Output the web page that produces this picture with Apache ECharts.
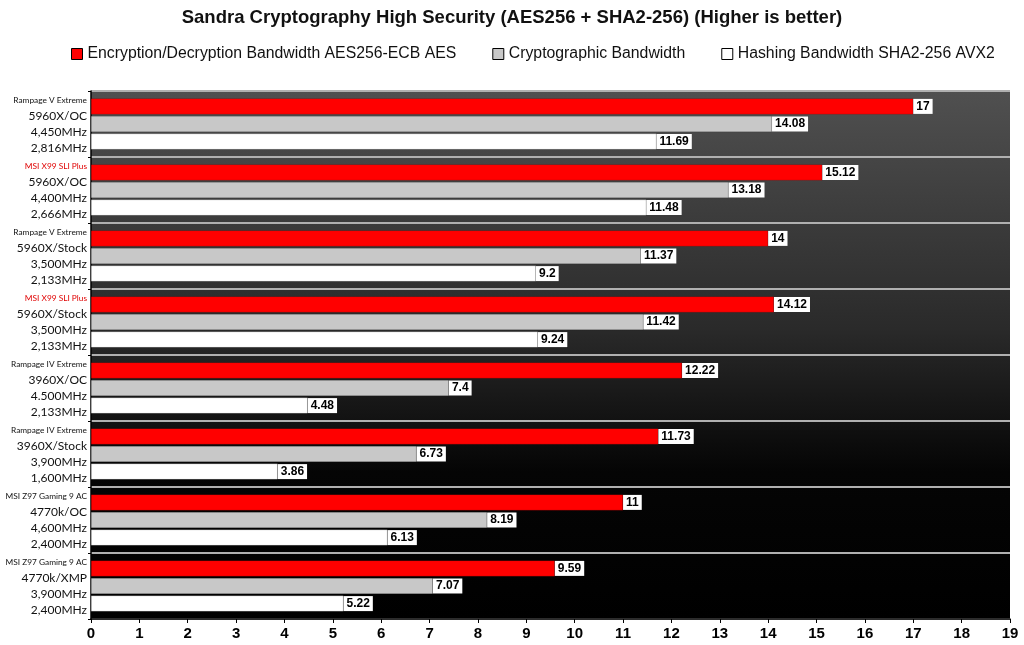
<!DOCTYPE html>
<html>
<head>
<meta charset="utf-8">
<script src="https://cdn.jsdelivr.net/npm/echarts@6/dist/echarts.min.js"></script>
<style>
  html, body { margin: 0; padding: 0; background: #fff; }
  #chart { width: 1024px; height: 645px; }
</style>
</head>
<body>
<div id="chart"></div>
<script>
// board / cpu / clock / memory for each group
const boards = ['Rampage V Extreme', 'MSI X99 SLI Plus', 'Rampage V Extreme', 'MSI X99 SLI Plus',
  'Rampage IV Extreme', 'Rampage IV Extreme', 'MSI Z97 Gaming 9 AC', 'MSI Z97 Gaming 9 AC'];
const cpus = ['5960X/OC', '5960X/OC', '5960X/Stock', '5960X/Stock', '3960X/OC', '3960X/Stock', '4770k/OC', '4770k/XMP'];
const clocks = ['4,450MHz', '4,400MHz', '3,500MHz', '3,500MHz', '4.500MHz', '3,900MHz', '4,600MHz', '3,900MHz'];
const mems = ['2,816MHz', '2,666MHz', '2,133MHz', '2,133MHz', '2,133MHz', '1,600MHz', '2,400MHz', '2,400MHz'];
const redBoards = [1, 3]; // MSI X99 rows are written in red

const encryption = [17, 15.12, 14, 14.12, 12.22, 11.73, 11, 9.59];
const crypto = [14.08, 13.18, 11.37, 11.42, 7.4, 6.73, 8.19, 7.07];
const hashing = [11.69, 11.48, 9.2, 9.24, 4.48, 3.86, 6.13, 5.22];

const xTicks = [0, 19, 1];

const categories = boards.map((b, i) => i);

const chart = echarts.init(document.getElementById('chart'));

const valueLabel = {
  show: true,
  position: 'right',
  distance: 0,
  color: '#000',
  fontFamily: 'Liberation Sans, Arial',
  fontWeight: 'bold',
  fontSize: 12,
  backgroundColor: '#fff',
  padding: [1, 3, 0, 3],
  lineHeight: 14
};

function barSeries(name, data, color) {
  return {
    name: name,
    type: 'bar',
    data: data,
    barWidth: 16,
    barGap: '10%',
    itemStyle: { color: color, borderColor: 'rgba(0,0,0,0.25)', borderWidth: 0.5 },
    label: valueLabel
  };
}

chart.setOption({
  animation: false,
  backgroundColor: '#fff',
  title: {
    text: 'Sandra Cryptography High Security (AES256 + SHA2-256) (Higher is better)',
    left: 'center',
    top: 3,
    textStyle: { fontFamily: 'Liberation Sans, Arial', fontWeight: 'bold', fontSize: 18.5, color: '#111' }
  },
  legend: {
    top: 41,
    left: 66,
    itemGap: 36,
    itemWidth: 11,
    itemHeight: 11,
    textStyle: { fontFamily: 'Liberation Sans, Arial', fontSize: 15.8, color: '#111' },
    data: [
      { name: 'Encryption/Decryption Bandwidth AES256-ECB AES', icon: 'rect', itemStyle: { borderColor: '#000', borderWidth: 1 } },
      { name: 'Cryptographic Bandwidth', icon: 'rect', itemStyle: { borderColor: '#000', borderWidth: 1 } },
      { name: 'Hashing Bandwidth SHA2-256 AVX2', icon: 'rect', itemStyle: { borderColor: '#000', borderWidth: 1 } }
    ]
  },
  grid: {
    left: 91,
    right: 14,
    top: 91,
    bottom: 26,
    outerBoundsMode: 'none',
    show: true,
    borderWidth: 0,
    backgroundColor: new echarts.graphic.LinearGradient(0, 0, 0, 1, [
      { offset: 0, color: '#505050' },
      { offset: 0.45, color: '#2a2a2a' },
      { offset: 0.72, color: '#050505' },
      { offset: 1, color: '#000' }
    ])
  },
  xAxis: {
    type: 'value',
    min: xTicks[0],
    max: xTicks[1],
    interval: xTicks[2],
    axisLine: { show: true, lineStyle: { color: '#000', width: 1.5 } },
    axisTick: { show: true, length: 4, lineStyle: { color: '#000' } },
    splitLine: { show: false },
    axisLabel: { color: '#000', fontFamily: 'Liberation Sans, Arial', fontWeight: 'bold', fontSize: 15, margin: 7 }
  },
  yAxis: {
    type: 'category',
    inverse: true,
    data: categories,
    axisLine: { show: true, lineStyle: { color: '#000', width: 1.5 } },
    axisTick: { show: true, length: 3, lineStyle: { color: '#000' } },
    splitLine: { show: true, lineStyle: { color: '#b0b0b0', width: 2 } },
    axisLabel: {
      margin: 4,
      align: 'right',
      lineHeight: 16,
      formatter: function (v) {
        const i = Number(v);
        const tag = redBoards.indexOf(i) >= 0 ? 'r' : 'a';
        return '{' + tag + '|' + boards[i] + '}\n{b|' + cpus[i] + '}\n{b|' + clocks[i] + '}\n{b|' + mems[i] + '}';
      },
      rich: {
        a: { fontFamily: 'Lato, Open Sans', fontSize: 8.3, color: '#111', lineHeight: 16 },
        r: { fontFamily: 'Lato, Open Sans', fontSize: 8.3, color: '#e00000', lineHeight: 16 },
        b: { fontFamily: 'Lato, Open Sans', fontSize: 12, color: '#111', lineHeight: 16 }
      }
    }
  },
  series: [
    barSeries('Encryption/Decryption Bandwidth AES256-ECB AES', encryption, '#ff0000'),
    barSeries('Cryptographic Bandwidth', crypto, '#c8c8c8'),
    barSeries('Hashing Bandwidth SHA2-256 AVX2', hashing, '#ffffff')
  ]
});
</script>
</body>
</html>
